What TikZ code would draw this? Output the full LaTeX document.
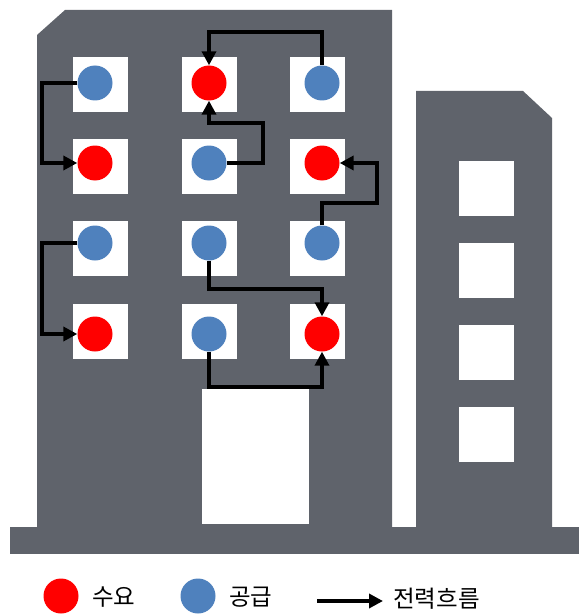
\documentclass[tikz,border=0pt]{standalone}
\usepackage{fontspec}
\newfontfamily\kr{Noto Sans CJK KR}
\usetikzlibrary{arrows.meta}
\definecolor{wall}{HTML}{5F636B}
\definecolor{demand}{HTML}{FF0000}
\definecolor{supply}{HTML}{4F81BD}
\tikzset{
  wallshape/.style={fill=wall, draw=none},
  win/.style={fill=white, draw=none},
  dem/.style={circle, fill=demand, draw=none, minimum size=35pt, inner sep=0pt},
  sup/.style={circle, fill=supply, draw=none, minimum size=35pt, inner sep=0pt},
  flow/.style={line width=4pt, -{Triangle[length=14pt,width=14pt]}},
  legendtext/.style={font=\kr\fontsize{23.5pt}{25pt}\selectfont, anchor=west, inner sep=0pt}
}
\begin{document}
\begin{tikzpicture}[x=1pt, y=-1pt]
\useasboundingbox (0,0) rectangle (584,615);

% buildings and ground
\fill[wallshape] (65,10) -- (392,10) -- (392,530) -- (37,530) -- (37,35) -- cycle;
\fill[wallshape] (416,91) -- (523,91) -- (552,118) -- (552,530) -- (416,530) -- cycle;
\fill[wallshape] (10,527) rectangle (579,554);

% door
\fill[win] (202,389) rectangle (309,524);

% windows of the tall block
\foreach \x in {73,182,290}
  \foreach \y in {57,139,221,304}
    \fill[win] (\x,\y) rectangle ++(55,55);

% windows of the small block
\foreach \y in {161,243,325,407}
  \fill[win] (459,\y) rectangle ++(55,55);

% demand and supply points
\node[sup] (c11) at (95,83) {};
\node[dem] (c12) at (209,83) {};
\node[sup] (c13) at (322,83) {};
\node[dem] (c21) at (95,163) {};
\node[sup] (c22) at (209,163) {};
\node[dem] (c23) at (322,163) {};
\node[sup] (c31) at (95,243) {};
\node[sup] (c32) at (209,243) {};
\node[sup] (c33) at (322,243) {};
\node[dem] (c41) at (95,334) {};
\node[sup] (c42) at (209,334) {};
\node[dem] (c43) at (322,334) {};

% power flows
\draw[flow] (c11.west) -- ++(-35,0) |- (c21.west);
\draw[flow] (c13.north) -- ++(0,-33.5) -| (c12.north);
\draw[flow] (c22.east) -| ++(36,-40) -| (c12.south);
\draw[flow] (c33.north) |- ++(55,-22.5) |- (c23.east);
\draw[flow] (c31.west) -- ++(-35,0) |- (c41.west);
\draw[flow] (c32.south) -- ++(0,28.5) -| (c43.north);
\draw[flow] (c42.south) -- ++(0,35.5) -| (c43.south);

% legend
\node[dem] (ld) at (61,596) {};
\node[legendtext] (ldt) at (92,597) {수요};
\node[sup] (ls) at (198,596) {};
\node[legendtext] (lst) at (229,597) {공급};
\coordinate (la) at (317,601);
\node[legendtext] (lft) at (393,599) {전력흐름};
\draw[flow] (la) -- ([xshift=-10pt]lft.west |- la);
\end{tikzpicture}
\end{document}
